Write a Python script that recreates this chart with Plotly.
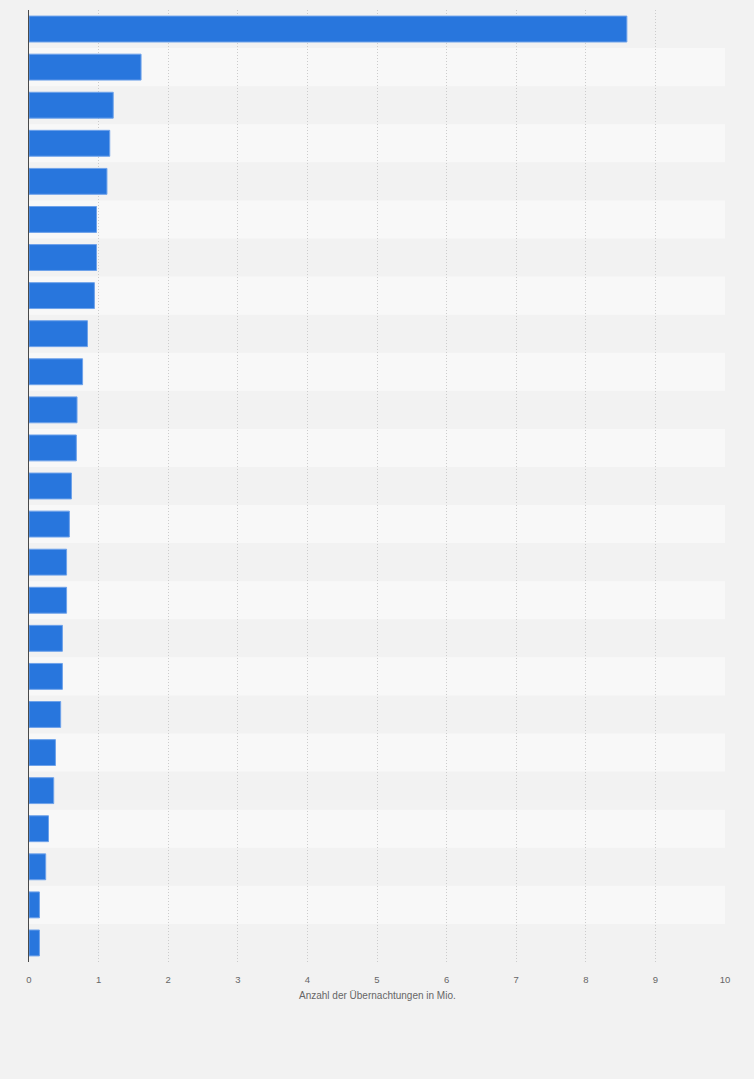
import plotly.graph_objects as go

categories = [f"Rang {i}" for i in range(1, 26)]
values = [8.59, 1.61, 1.21, 1.16, 1.12, 0.97, 0.97, 0.94, 0.84, 0.77,
          0.69, 0.68, 0.61, 0.58, 0.54, 0.54, 0.48, 0.48, 0.455, 0.38,
          0.355, 0.28, 0.24, 0.15, 0.15]
x_ticks = list(range(0, 11))
x_title = "Anzahl der Übernachtungen in Mio."

BG = "#f2f2f2"
BAND = "#f8f8f8"
BAR = "#2876dd"

fig = go.Figure()
fig.add_trace(go.Bar(
    x=values, y=categories, orientation="h",
    marker=dict(color=BAR, line=dict(color="#6ea2ea", width=1)),
    width=0.68, hoverinfo="x",
))

shapes = []
for i, c in enumerate(categories):
    if i % 2 == 1:
        shapes.append(dict(type="rect", xref="paper", yref="y",
                           x0=0, x1=1, y0=i - 0.5, y1=i + 0.5,
                           fillcolor=BAND, line=dict(width=0), layer="below"))

fig.update_layout(
    width=754, height=1079,
    margin=dict(l=29, r=29, t=10, b=117),
    paper_bgcolor=BG, plot_bgcolor=BG,
    showlegend=False,
    shapes=shapes,
    font=dict(family="Arial, Liberation Sans, sans-serif", color="#666666"),
    xaxis=dict(range=[0, 10], tickvals=x_ticks, showgrid=True,
               gridcolor="#cccccc", griddash="1px,2px", gridwidth=1,
               zeroline=False, showline=False, ticks="",
               ticklabelstandoff=10,
               tickfont=dict(size=9.5, color="#666666")),
    yaxis=dict(type="category", categoryorder="array", categoryarray=categories,
               autorange="reversed", showticklabels=False, showgrid=False,
               zeroline=False, showline=True, linecolor="#4a4a4a", linewidth=1.3,
               ticks=""),
    annotations=[dict(text=x_title, xref="paper", yref="paper", x=0.5,
                      y=-0.0347, xanchor="center", yanchor="middle",
                      showarrow=False, font=dict(size=10, color="#666666"))],
)

fig.write_html("out.html",
               config={"displayModeBar": False},
               post_script="document.body.style.margin='0px';"
                           "document.body.style.background='#f2f2f2';")
